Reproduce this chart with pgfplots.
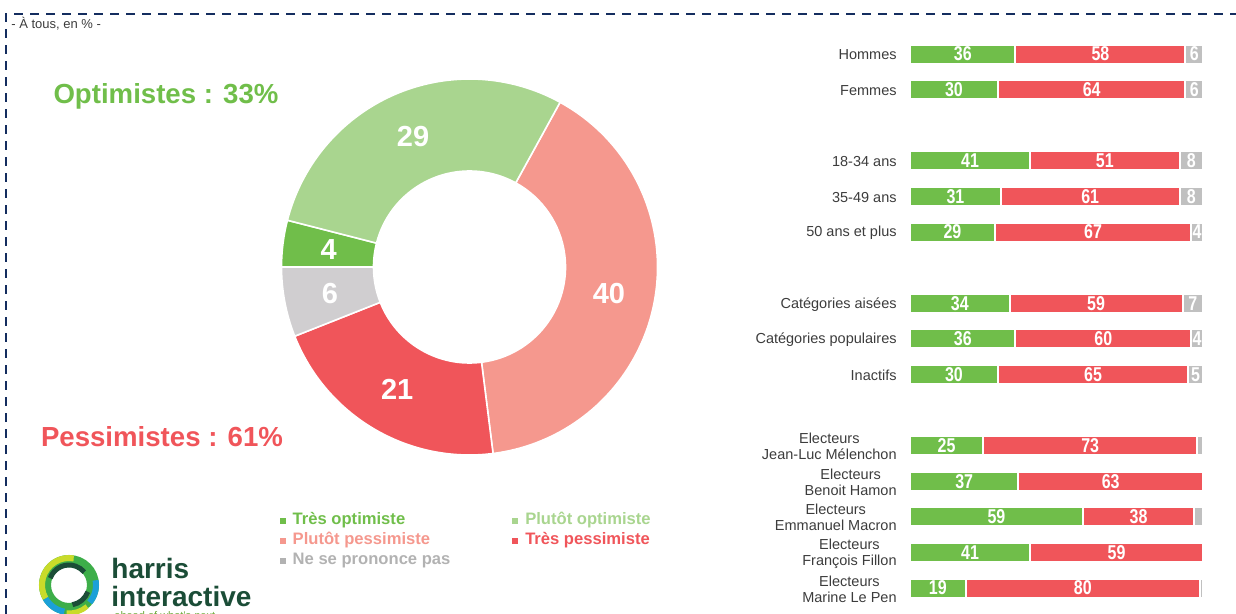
\documentclass[border=0pt]{standalone}
\usepackage{pgfplots}
\pgfplotsset{compat=1.18}
\usepackage{pgfplotstable}
\usepackage{fontspec}
\setmainfont{Liberation Sans}
\newfontfamily\narrowfont[FakeStretch=0.8]{Liberation Sans}

\definecolor{cTO}{RGB}{112,190,74}
\definecolor{cPO}{RGB}{169,213,143}
\definecolor{cPP}{RGB}{245,152,142}
\definecolor{cTP}{RGB}{240,85,90}
\definecolor{cNSP}{RGB}{208,206,208}
\definecolor{cbargrey}{RGB}{192,192,192}
\definecolor{cnsptext}{RGB}{178,178,178}
\definecolor{navy}{RGB}{20,45,95}
\definecolor{txt}{RGB}{60,60,60}
\definecolor{harrisgreen}{RGB}{27,77,55}

% donut: value, cumulative start (in %, clockwise from top), colour
\pgfplotstableread{
val cum col
40 8 cPP
21 48 cTP
6 69 cNSP
4 75 cTO
29 79 cPO
}\donut

% bars: optimistes, pessimistes, nsp
\pgfplotstableread{
row g r n
0 36 58 6
1 30 64 6
3 41 51 8
4 31 61 8
5 29 67 4
7 34 59 7
8 36 60 4
9 30 65 5
11 25 73 2
12 37 63 0
13 59 38 3
14 41 59 0
15 19 80 1
}\bars

\tikzset{dlabel/.style={font=\fontsize{14.5}{14.5}\selectfont\bfseries, text=white, inner sep=0pt}}

\begin{document}
\begin{tikzpicture}[x=0.5pt,y=-0.5pt]
\path[use as bounding box] (0,0) rectangle (1236,614);
\draw[navy, line width=1pt, dash pattern=on 4.5pt off 3.5pt] (6,614) -- (6,14) -- (1236,14);
\node[anchor=west, font=\fontsize{6.5}{7}\selectfont, text=txt, inner sep=0pt] at (11,24) {- À tous, en \% -};

\node[font=\fontsize{13.8}{14}\selectfont\bfseries, text=cTO, inner sep=0pt] at (166,96) {Optimistes : 33\%};
\node[font=\fontsize{13.8}{14}\selectfont\bfseries, text=cTP, inner sep=0pt] at (162,437) {Pessimistes : 61\%};

% donut
\begin{axis}[
  at={(234.75pt,-133.5pt)}, anchor=center,
  x=0.5pt, y=0.5pt, xmin=-200, xmax=200, ymin=-200, ymax=200,
  hide axis, clip=false,
  legend columns=2, legend cell align=left,
  legend style={draw=none, fill=none, inner sep=0pt, outer sep=0pt,
    at={(0.026,-0.11)}, anchor=north west,
    font=\fontsize{8.3}{9}\selectfont\bfseries,
    /tikz/every odd column/.append style={column sep=3.5pt},
    /tikz/every even column/.append style={column sep=31pt},
    row sep=0pt, nodes={inner sep=0pt, text height=6.5pt, text depth=3.5pt}},
  legend image code/.code={\fill[#1] (0pt,-1.25pt) rectangle (2.5pt,1.25pt);},
]
\pgfplotsinvokeforeach{0,...,4}{%
  \pgfplotstablegetelem{#1}{val}\of\donut \let\v\pgfplotsretval
  \pgfplotstablegetelem{#1}{cum}\of\donut \let\c\pgfplotsretval
  \pgfplotstablegetelem{#1}{col}\of\donut \let\col\pgfplotsretval
  \pgfmathsetmacro\aA{90-3.6*\c}
  \pgfmathsetmacro\aB{90-3.6*(\c+\v)}
  \pgfmathsetmacro\aM{90-3.6*(\c+\v/2)}
  \pgfmathsetmacro\xA{188*cos(\aA)}
  \pgfmathsetmacro\yA{188*sin(\aA)}
  \pgfmathsetmacro\xB{96*cos(\aB)}
  \pgfmathsetmacro\yB{96*sin(\aB)}
  \pgfmathsetmacro\xM{142*cos(\aM)}
  \pgfmathsetmacro\yM{142*sin(\aM)}
  \edef\cmd{\noexpand\fill[\col, draw=white, line width=0.8pt] (axis cs:\xA,\yA) arc[start angle=\aA, end angle=\aB, radius=94pt] -- (axis cs:\xB,\yB) arc[start angle=\aB, end angle=\aA, radius=48pt] -- cycle;
    \noexpand\node[dlabel] at (axis cs:\xM,\yM) {\v};}
  \cmd
}
\addlegendimage{cTO}\addlegendentry{\textcolor{cTO}{Très optimiste}}
\addlegendimage{cPO}\addlegendentry{\textcolor{cPO}{Plutôt optimiste}}
\addlegendimage{cPP}\addlegendentry{\textcolor{cPP}{Plutôt pessimiste}}
\addlegendimage{cTP}\addlegendentry{\textcolor{cTP}{Très pessimiste}}
\addlegendimage{cnsptext}\addlegendentry{\textcolor{cnsptext}{Ne se prononce pas}}
\end{axis}

% bars
\begin{axis}[
  at={(455pt,-302.9pt)}, anchor=south west,
  xbar stacked, bar width=9.5pt,
  x=1.465pt, y=17.8pt, y dir=reverse,
  xmin=0, xmax=100, ymin=-0.5, ymax=15.5,
  axis line style={draw=none}, tick style={draw=none},
  xtick=\empty,
  ytick={0,1,3,4,5,7,8,9,11,12,13,14,15},
  yticklabels={Hommes, Femmes, 18-34 ans, 35-49 ans, 50 ans et plus,
    Catégories aisées, Catégories populaires, Inactifs,
    {Electeurs\\Jean-Luc Mélenchon}, {Electeurs\\Benoit Hamon},
    {Electeurs\\Emmanuel Macron}, {Electeurs\\François Fillon},
    {Electeurs\\Marine Le Pen}},
  yticklabel style={align=center, font=\fontsize{7.25}{8}\selectfont, text=txt, inner sep=0pt, xshift=-6.5pt, yshift=-0.5pt},
  clip=false,
]
\addplot[fill=cTO, draw=white, line width=1pt] table[x=g, y=row]{\bars};
\addplot[fill=cTP, draw=white, line width=1pt] table[x=r, y=row]{\bars};
\addplot[fill=cbargrey, draw=white, line width=1pt] table[x=n, y=row]{\bars};
\end{axis}

% bar value labels
\begin{axis}[
  at={(455pt,-302.9pt)}, anchor=south west,
  x=1.465pt, y=17.8pt, y dir=reverse,
  xmin=0, xmax=100, ymin=-0.5, ymax=15.5,
  hide axis, clip=false,
  nodes near coords, point meta=explicit symbolic,
  every node near coord/.append style={anchor=center, text=white, inner sep=0pt,
    font=\narrowfont\bfseries\fontsize{10}{10}\selectfont},
]
\addplot[draw=none] table[x expr=\thisrow{g}/2, y=row, meta=g]{\bars};
\addplot[draw=none] table[x expr=\thisrow{g}+\thisrow{r}/2, y=row, meta=r]{\bars};
\addplot[draw=none, restrict expr to domain={\thisrow{n}}{4:100}] table[x expr=\thisrow{g}+\thisrow{r}+\thisrow{n}/2, y=row, meta=n]{\bars};
\end{axis}

% logo
\begin{scope}[shift={(69,585)}]
  \draw[line width=6pt, color={rgb,255:red,61;green,174;blue,73}] (0,0) circle[radius=24];
  \draw[line width=3pt, color={rgb,255:red,201;green,219;blue,42}] (150:27) arc[start angle=150, end angle=280, radius=27];
  \draw[line width=3pt, color={rgb,255:red,27;green,160;blue,216}] (100:27) arc[start angle=100, end angle=150, radius=27];
  \draw[line width=3pt, color={rgb,255:red,27;green,160;blue,216}] (-10:27) arc[start angle=-10, end angle=40, radius=27];
  \draw[line width=2.5pt, color={rgb,255:red,201;green,219;blue,42}] (50:28) arc[start angle=50, end angle=95, radius=28];
  \draw[line width=2.5pt, color=harrisgreen] (200:20) arc[start angle=200, end angle=320, radius=20];
  \draw[line width=2.5pt, color=harrisgreen] (20:20) arc[start angle=20, end angle=80, radius=20];
\end{scope}
\node[anchor=base west, inner sep=0pt, font=\fontsize{14}{14}\selectfont\bfseries, text=harrisgreen] at (111,578) {harris};
\node[anchor=base west, inner sep=0pt, font=\fontsize{14}{14}\selectfont\bfseries, text=harrisgreen] at (111,606) {interactive};
\node[anchor=base west, inner sep=0pt, font=\fontsize{5.5}{6}\selectfont, text={rgb,255:red,110;green,170;blue,60}] at (114,619) {ahead of what's next};
\end{tikzpicture}
\end{document}
